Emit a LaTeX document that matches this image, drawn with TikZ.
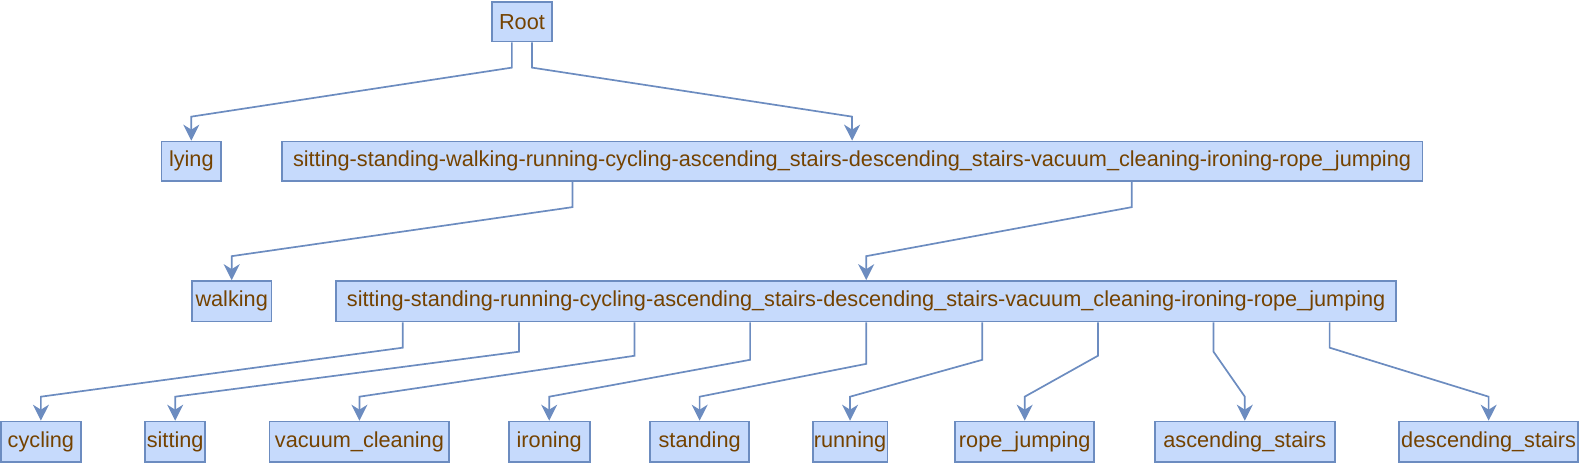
\documentclass[tikz,border=0pt]{standalone}
\usepackage{fontspec}
\setmainfont{Liberation Sans}
\usetikzlibrary{arrows.meta}
\definecolor{boxfill}{RGB}{198,218,252}
\definecolor{boxline}{RGB}{108,140,192}
\definecolor{txt}{RGB}{116,66,0}
\begin{document}
\begin{tikzpicture}[x=1.0096pt,y=-1.011pt,
  box/.style={draw=boxline, fill=boxfill, line width=1.8pt, inner sep=0pt, text=txt,
    font=\fontsize{21.7}{26}\selectfont, anchor=center},
  edge/.style={draw=boxline, line width=1.7pt, line join=miter,
    -{Stealth[length=16pt,width=16pt,inset=5pt]}}]
\useasboundingbox (0,0) rectangle (1566,458);
\newcommand\bx[6]{\node[box,minimum width=#4*1.0096pt,minimum height=#5*1.011pt] (#1) at (#2,#3) {#6};}
\newcommand\ed[4]{\draw[edge] ([xshift=#2*1.0096pt]#1.south) -- ++(0,#3) -- ([yshift=24pt]#4.north) -- (#4.north);}
\bx{root}{517}{21.5}{60}{39}{Root}
\bx{lying}{189.5}{159.5}{59}{39}{lying}
\bx{big1}{844}{159.5}{1130}{39}{sitting-standing-walking-running-cycling-ascending\_stairs-descending\_stairs-vacuum\_cleaning-ironing-rope\_jumping}
\bx{walking}{229.5}{298}{79}{40}{walking}
\bx{big2}{858}{298}{1050}{40}{sitting-standing-running-cycling-ascending\_stairs-descending\_stairs-vacuum\_cleaning-ironing-rope\_jumping}
\bx{cycling}{40.5}{437}{79}{40}{cycling}
\bx{sitting}{173.5}{437}{59}{40}{sitting}
\bx{vacuum}{356}{437}{178}{40}{vacuum\_cleaning}
\bx{ironing}{544}{437}{80}{40}{ironing}
\bx{standing}{693}{437}{98}{40}{standing}
\bx{running}{842}{437}{74}{40}{running}
\bx{rope}{1015}{437}{138}{40}{rope\_jumping}
\bx{asc}{1233}{437}{178}{40}{ascending\_stairs}
\bx{desc}{1474.5}{437}{177}{40}{descending\_stairs}
\ed{root}{-10}{25}{lying}
\ed{root}{10}{25}{big1}
\ed{big1}{-277}{25}{walking}
\ed{big1}{277}{25}{big2}
\ed{big2}{-459}{25}{cycling}
\ed{big2}{-344}{29}{sitting}
\ed{big2}{-229.5}{33}{vacuum}
\ed{big2}{-115}{37}{ironing}
\ed{big2}{0}{41}{standing}
\ed{big2}{115}{37}{running}
\ed{big2}{229.5}{33}{rope}
\ed{big2}{344}{29}{asc}
\ed{big2}{459}{25}{desc}
\end{tikzpicture}
\end{document}
